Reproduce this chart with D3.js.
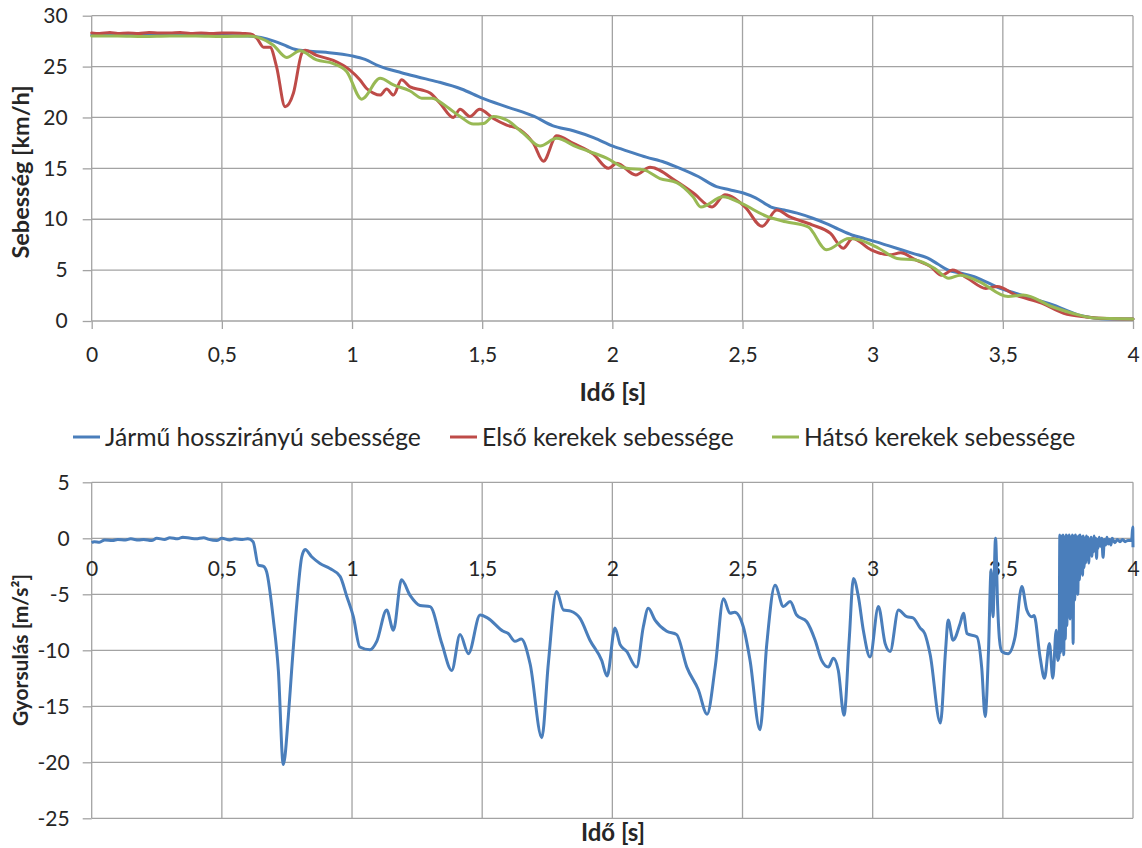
<!DOCTYPE html>
<html>
<head>
<meta charset="utf-8">
<script src="https://cdn.jsdelivr.net/npm/d3@7/dist/d3.min.js"></script>
<style>
  body { margin: 0; background: #fff; }
  svg { display: block; }
  text { font-family: Lato, "Open Sans", "DejaVu Sans", sans-serif; fill: #262626; }
</style>
</head>
<body>
<svg id="chart" width="1142" height="848"></svg>
<script>
// ---- Speed chart: time [s] and speed [km/h] per series ----
const vehicleT = [0, 0.1, 0.2, 0.3, 0.4, 0.5, 0.6, 0.65, 0.7, 0.75, 0.78, 0.82, 0.9, 1.0, 1.05, 1.1, 1.19, 1.25, 1.33, 1.42, 1.5, 1.6, 1.7, 1.77, 1.85, 1.93, 2.0, 2.07, 2.13, 2.2, 2.26, 2.33, 2.4, 2.45, 2.5, 2.55, 2.61, 2.66, 2.71, 2.77, 2.82, 2.87, 2.92, 2.97, 3.01, 3.06, 3.11, 3.16, 3.21, 3.25, 3.29, 3.34, 3.39, 3.44, 3.49, 3.54, 3.59, 3.64, 3.69, 3.74, 3.79, 3.85, 3.9, 4.0];
const vehicleV = [28.1, 28.1, 28.05, 28.05, 28.05, 28.05, 28.0, 27.85, 27.5, 27.0, 26.7, 26.55, 26.4, 26.05, 25.7, 25.1, 24.4, 24.0, 23.5, 22.8, 21.9, 21.0, 20.1, 19.2, 18.7, 18.0, 17.2, 16.6, 16.1, 15.6, 15.0, 14.2, 13.2, 12.9, 12.6, 12.1, 11.2, 10.9, 10.6, 10.1, 9.6, 9.0, 8.45, 8.1, 7.8, 7.4, 7.0, 6.6, 6.2, 5.6, 5.0, 4.7, 4.35, 3.8, 3.2, 2.8, 2.4, 2.0, 1.6, 1.1, 0.6, 0.3, 0.2, 0.2];

const frontT = [0, 0.03, 0.07, 0.1, 0.14, 0.18, 0.22, 0.26, 0.3, 0.34, 0.38, 0.42, 0.46, 0.5, 0.54, 0.58, 0.61, 0.634, 0.66, 0.685, 0.71, 0.743, 0.775, 0.807, 0.82, 0.864, 0.928, 0.992, 1.03, 1.056, 1.082, 1.108, 1.133, 1.159, 1.19, 1.223, 1.268, 1.3, 1.338, 1.389, 1.415, 1.453, 1.49, 1.543, 1.594, 1.645, 1.697, 1.735, 1.786, 1.85, 1.927, 1.985, 2.017, 2.09, 2.145, 2.247, 2.31, 2.383, 2.432, 2.51, 2.575, 2.632, 2.68, 2.767, 2.838, 2.887, 2.923, 2.994, 3.065, 3.108, 3.165, 3.222, 3.265, 3.307, 3.364, 3.435, 3.478, 3.549, 3.649, 3.734, 3.82, 3.9, 4.0];
const frontV = [28.3, 28.25, 28.35, 28.25, 28.3, 28.25, 28.35, 28.3, 28.3, 28.35, 28.25, 28.3, 28.25, 28.3, 28.3, 28.25, 28.2, 27.8, 26.9, 26.9, 25.0, 21.05, 22.4, 26.3, 26.6, 26.1, 25.6, 24.65, 23.7, 22.85, 22.4, 22.2, 22.8, 22.2, 23.7, 23.0, 22.7, 22.4, 21.4, 20.0, 20.8, 20.1, 20.8, 19.9, 19.25, 18.8, 17.45, 15.7, 18.2, 17.45, 16.4, 15.0, 15.5, 14.35, 15.1, 13.7, 12.6, 11.2, 12.4, 11.2, 9.3, 10.9, 10.25, 9.45, 8.6, 7.15, 8.1, 7.0, 6.5, 6.7, 6.0, 5.35, 4.5, 5.0, 4.2, 3.2, 3.4, 2.55, 1.75, 0.75, 0.4, 0.25, 0.2];

const rearT = [0, 0.1, 0.2, 0.3, 0.4, 0.5, 0.6, 0.647, 0.698, 0.749, 0.8, 0.864, 0.928, 0.98, 1.037, 1.108, 1.159, 1.223, 1.268, 1.306, 1.364, 1.415, 1.466, 1.505, 1.543, 1.594, 1.658, 1.722, 1.786, 1.863, 1.978, 2.055, 2.12, 2.183, 2.247, 2.31, 2.34, 2.425, 2.496, 2.596, 2.667, 2.752, 2.823, 2.909, 2.952, 3.023, 3.094, 3.165, 3.236, 3.293, 3.336, 3.407, 3.52, 3.578, 3.69, 3.79, 3.85, 4.0];
const rearV = [28.0, 28.0, 27.95, 28.0, 28.0, 27.95, 28.0, 27.8, 27.1, 25.9, 26.55, 25.65, 25.3, 24.5, 21.8, 23.85, 23.2, 22.6, 21.9, 21.9, 21.05, 20.1, 19.35, 19.4, 20.1, 19.75, 18.45, 17.2, 17.95, 17.1, 16.0, 15.0, 14.85, 14.0, 13.6, 12.2, 11.2, 12.2, 11.55, 10.25, 9.75, 9.25, 7.0, 8.1, 7.95, 7.15, 6.15, 6.0, 5.2, 4.2, 4.5, 3.9, 2.4, 2.55, 1.4, 0.6, 0.3, 0.2];

// ---- Acceleration chart: time [s] and acceleration [m/s²] ----
const accT = [0, 0.01, 0.03, 0.05, 0.08, 0.1, 0.13, 0.15, 0.18, 0.2, 0.23, 0.25, 0.28, 0.3, 0.33, 0.35, 0.38, 0.4, 0.43, 0.45, 0.48, 0.5, 0.53, 0.55, 0.58, 0.6,
  0.62, 0.64, 0.66, 0.672, 0.698, 0.717, 0.736, 0.755, 0.768, 0.788, 0.807, 0.82, 0.845, 0.877, 0.915, 0.954, 0.98, 1.005, 1.03, 1.069, 1.095, 1.133, 1.159, 1.19,
  1.223, 1.261, 1.3, 1.345, 1.383, 1.415, 1.447, 1.492, 1.52, 1.581, 1.6, 1.626, 1.65, 1.684, 1.729, 1.754, 1.786, 1.812, 1.84, 1.876, 1.914, 1.959, 1.98,
  2.01, 2.03, 2.055, 2.093, 2.119, 2.138, 2.164, 2.209, 2.247, 2.286, 2.33, 2.364, 2.395, 2.427, 2.452, 2.47, 2.503, 2.529, 2.567, 2.593, 2.625, 2.657, 2.683,
  2.708, 2.747, 2.779, 2.804, 2.83, 2.849, 2.868, 2.89, 2.91, 2.926, 2.945, 2.964, 2.99, 3.022, 3.048, 3.067, 3.099, 3.131, 3.155, 3.182, 3.2, 3.221, 3.26,
  3.28, 3.29, 3.309, 3.336, 3.349, 3.362, 3.4, 3.419, 3.432, 3.445, 3.455, 3.462, 3.472, 3.48, 3.487, 3.496, 3.52, 3.547, 3.573, 3.592, 3.611, 3.62, 3.643,
  3.66, 3.679, 3.692, 3.705, 3.711,
  3.716, 3.719, 3.722, 3.725, 3.728, 3.731, 3.734, 3.737, 3.74, 3.743, 3.746, 3.749, 3.752, 3.755, 3.758, 3.761, 3.764, 3.767, 3.77, 3.773, 3.776, 3.779,
  3.782, 3.785, 3.788, 3.791, 3.794, 3.797, 3.8, 3.803, 3.806, 3.809, 3.812, 3.815, 3.818, 3.821, 3.824, 3.827, 3.83, 3.833, 3.836, 3.839, 3.842, 3.845,
  3.848, 3.851, 3.854, 3.857, 3.86, 3.863, 3.866, 3.87, 3.875, 3.88, 3.885, 3.89, 3.895, 3.9, 3.905, 3.91, 3.915, 3.92, 3.93, 3.94, 3.95, 3.96, 3.97, 3.98,
  3.99, 3.995, 3.999, 4.0];
const accV = [-0.4, -0.3, -0.35, -0.15, -0.2, -0.1, -0.15, -0.05, -0.15, -0.1, -0.2, 0.0, -0.1, 0.05, -0.05, 0.1, 0.0, -0.05, 0.05, -0.1, -0.2, 0.0, -0.15, -0.05, -0.1, -0.05,
  -0.3, -2.4, -2.5, -3.0, -7.3, -11.8, -20.2, -16.0, -11.8, -5.8, -1.65, -1.0, -1.65, -2.25, -2.7, -3.4, -5.2, -7.0, -9.7, -9.95, -9.2, -6.4, -8.2, -3.7,
  -5.1, -6.0, -6.1, -9.4, -11.8, -8.6, -10.3, -6.85, -7.1, -8.3, -8.5, -9.2, -9.0, -11.2, -17.8, -11.2, -4.75, -6.4, -6.5, -7.15, -9.1, -10.9, -12.3,
  -8.0, -9.5, -10.1, -11.5, -7.9, -6.25, -7.3, -8.3, -8.6, -11.5, -13.5, -15.7, -11.5, -5.4, -6.7, -6.6, -7.9, -10.9, -17.1, -9.5, -4.2, -6.1, -5.65,
  -6.85, -7.45, -9.1, -10.9, -11.5, -10.7, -11.8, -15.8, -9.0, -3.6, -5.2, -8.2, -10.6, -6.1, -9.4, -10.1, -6.4, -7.0, -7.1, -8.0, -8.5, -10.4, -16.5,
  -10.0, -7.3, -9.1, -7.6, -6.7, -8.5, -8.8, -11.6, -15.9, -10.0, -2.8, -7.0, 0.0, -6.0, -9.0, -10.1, -10.3, -8.8, -4.3, -6.4, -7.0, -6.9, -10.6,
  -12.5, -9.4, -12.5, -8.2, -10.9,
  -10.5, 0.3, -10.2, 0.2, -9.8, 0.3, -10.4, 0.1, -9.0, 0.3, -7.8, 0.2, -6.5, 0.3, -7.2, 0.1, -6.0, 0.3, -9.4, 0.2, -5.5, 0.3,
  -4.8, 0.1, -5.0, 0.2, -3.7, 0.3, -3.0, 0.1, -3.3, 0.2, -2.6, 0.0, -2.2, 0.2, -1.8, 0.1, -2.2, -0.2, -1.4, 0.1, -1.6, -0.1,
  -1.2, 0.2, -1.0, 0.0, -1.8, -0.1, -0.9, 0.1, -0.7, 0.0, -1.7, -0.1, -0.6, 0.1, -0.5, -0.1, -0.6, 0.0, -0.4, -0.1, -0.3, -0.1, -0.3, -0.2,
  -0.2, -0.1, 1.0, -0.8];

// ---- Axis ticks, labels and legend ----
const xTicks = [0, 0.5, 1, 1.5, 2, 2.5, 3, 3.5, 4];
const xTickText = ["0", "0,5", "1", "1,5", "2", "2,5", "3", "3,5", "4"];
const speedTicks = [0, 5, 10, 15, 20, 25, 30];
const accTicks = [-25, -20, -15, -10, -5, 0, 5];
const seriesNames = ["Jármű hosszirányú sebessége", "Első kerekek sebessége", "Hátsó kerekek sebessége"];
const seriesColors = ["#4a7ebb", "#be4b48", "#98b954"];

const svg = d3.select("#chart");
const gridColor = "#a3a3a3";

const x = d3.scaleLinear().domain([0, 4]).range([91.7, 1133]);
const ySpeed = d3.scaleLinear().domain([0, 30]).range([321, 15.7]);
const yAcc = d3.scaleLinear().domain([-25, 5]).range([818.3, 482.3]);

// plain hyphen-minus for negative tick values
const intLabel = d => String(d);

function grid(yScale, yTicks) {
  const g = svg.append("g").attr("stroke", gridColor).attr("stroke-width", 1.3);
  const [yb, yt] = yScale.range();
  g.selectAll("line.v").data(xTicks).join("line")
    .attr("x1", d => x(d)).attr("x2", d => x(d)).attr("y1", yb).attr("y2", yt);
  g.selectAll("line.h").data(yTicks).join("line")
    .attr("x1", x(0)).attr("x2", x(4)).attr("y1", d => yScale(d)).attr("y2", d => yScale(d));
}

function styleAxis(g) {
  g.select(".domain").remove();
  g.selectAll(".tick line").attr("stroke", gridColor).attr("stroke-width", 1.3);
  g.selectAll(".tick text").attr("font-size", 21).attr("fill", "#262626").attr("font-family", null);
}

// --- Speed panel ---
grid(ySpeed, speedTicks);
svg.append("g").attr("transform", `translate(${x(0)},0)`)
  .call(d3.axisLeft(ySpeed).tickValues(speedTicks).tickSize(9).tickPadding(15).tickFormat(intLabel))
  .call(styleAxis);
svg.append("g").attr("transform", `translate(0,${ySpeed(0)})`)
  .call(d3.axisBottom(x).tickValues(xTicks).tickSize(8).tickPadding(18).tickFormat((d, i) => xTickText[i]))
  .call(styleAxis);

const speedLine = d3.line().x(d => x(d[0])).y(d => ySpeed(d[1])).curve(d3.curveMonotoneX);
const speedSeries = [
  d3.zip(vehicleT, vehicleV),
  d3.zip(frontT, frontV),
  d3.zip(rearT, rearV)
];
svg.append("g").selectAll("path").data(speedSeries).join("path")
  .attr("d", speedLine)
  .attr("fill", "none")
  .attr("stroke", (d, i) => seriesColors[i])
  .attr("stroke-width", 3)
  .attr("stroke-linejoin", "round")
  .attr("stroke-linecap", "round");

svg.append("text").attr("transform", "translate(29,172) rotate(-90)")
  .attr("text-anchor", "middle").attr("font-weight", "bold").attr("font-size", 23.5)
  .text("Sebesség [km/h]");
svg.append("text").attr("x", 613).attr("y", 401)
  .attr("text-anchor", "middle").attr("font-weight", "bold").attr("font-size", 25)
  .text("Idő [s]");

// --- Legend ---
const legendX = [73, 450, 772];
const legend = svg.append("g").selectAll("g").data(seriesNames).join("g")
  .attr("transform", (d, i) => `translate(${legendX[i]},437)`);
legend.append("line").attr("x1", 0).attr("x2", 27).attr("y1", 0).attr("y2", 0)
  .attr("stroke", (d, i) => seriesColors[i]).attr("stroke-width", 3);
legend.append("text").attr("x", 32).attr("y", 8.5).attr("font-size", 24.7).text(d => d);

// --- Acceleration panel ---
grid(yAcc, accTicks);
svg.append("g").attr("transform", `translate(${x(0)},0)`)
  .call(d3.axisLeft(yAcc).tickValues(accTicks).tickSize(9).tickPadding(13).tickFormat(intLabel))
  .call(styleAxis);
svg.append("g").attr("transform", `translate(0,${yAcc(0)})`)
  .call(d3.axisBottom(x).tickValues(xTicks).tickSize(0).tickPadding(23).tickFormat((d, i) => xTickText[i]))
  .call(styleAxis);

const accLine = d3.line().x(d => x(d[0])).y(d => yAcc(d[1])).curve(d3.curveMonotoneX);
svg.append("path").datum(d3.zip(accT, accV))
  .attr("d", accLine)
  .attr("fill", "none")
  .attr("stroke", seriesColors[0])
  .attr("stroke-width", 3)
  .attr("stroke-linejoin", "round");

svg.append("text").attr("transform", "translate(28,650) rotate(-90)")
  .attr("text-anchor", "middle").attr("font-weight", "bold").attr("font-size", 21)
  .text("Gyorsulás [m/s²]");
svg.append("text").attr("x", 613).attr("y", 841)
  .attr("text-anchor", "middle").attr("font-weight", "bold").attr("font-size", 24)
  .text("Idő [s]");
</script>
</body>
</html>
